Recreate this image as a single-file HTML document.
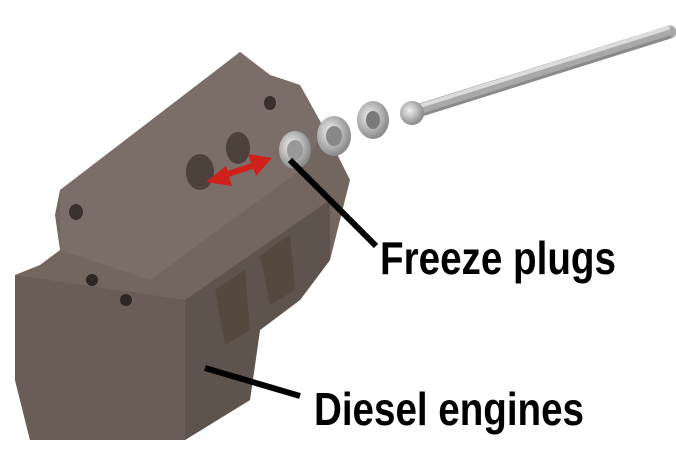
<!DOCTYPE html>
<html><head><meta charset="utf-8">
<style>html,body{margin:0;padding:0;background:#fff;width:676px;height:464px;overflow:hidden}</style>
</head><body>
<svg width="676" height="464" viewBox="0 0 676 464" xmlns="http://www.w3.org/2000/svg">
<defs>
<radialGradient id="plug" cx="0.4" cy="0.4" r="0.6">
<stop offset="0" stop-color="#f2f2f2"/><stop offset="1" stop-color="#8a8a8a"/>
</radialGradient>
</defs>
<!-- engine block -->
<polygon points="60,190 90,170 240,52 270,75 300,85 325,130 350,180 330,260 300,300 260,330 250,400 185,440 30,440 15,380 15,275 40,265 60,250 55,215" fill="#72665f"/>
<polygon points="60,190 240,52 270,75 300,85 325,130 300,170 150,280 60,250" fill="#7b6e68"/>
<polygon points="15,275 185,300 185,440 30,440 15,380" fill="#6a5d57"/>
<polygon points="185,300 330,200 330,260 300,300 260,330 250,400 185,440" fill="#5f534d"/>
<ellipse cx="200" cy="172" rx="14" ry="18" fill="#4d413c"/>
<ellipse cx="238" cy="148" rx="12" ry="16" fill="#4d413c"/>
<ellipse cx="76" cy="212" rx="7" ry="8" fill="#3a302c"/>
<ellipse cx="270" cy="103" rx="6" ry="7" fill="#3a302c"/>
<ellipse cx="92" cy="280" rx="6" ry="6" fill="#2e2623"/>
<ellipse cx="126" cy="300" rx="6" ry="6" fill="#2e2623"/>
<polygon points="215,290 245,270 250,330 225,345" fill="#55483f"/>
<polygon points="260,255 290,235 295,290 270,305" fill="#55483f"/>
<!-- rod -->
<line x1="420" y1="110" x2="670" y2="32" stroke="#a9a9a9" stroke-width="13" stroke-linecap="round"/>
<line x1="420" y1="106" x2="668" y2="28" stroke="#dcdcdc" stroke-width="4" stroke-linecap="round"/>
<line x1="422" y1="115" x2="670" y2="37" stroke="#8a8a8a" stroke-width="3" stroke-linecap="round"/>
<circle cx="412" cy="113" r="12" fill="url(#plug)"/>
<ellipse cx="373" cy="120" rx="16" ry="19" fill="url(#plug)"/>
<ellipse cx="373" cy="120" rx="7" ry="9" fill="#7a7a7a"/>
<ellipse cx="334" cy="136" rx="17" ry="20" fill="url(#plug)"/>
<ellipse cx="334" cy="136" rx="8" ry="10" fill="#888"/>
<ellipse cx="295" cy="150" rx="16" ry="19" fill="url(#plug)"/>
<ellipse cx="295" cy="150" rx="8" ry="10" fill="#999"/>
<!-- red arrow -->
<line x1="222" y1="176" x2="258" y2="164" stroke="#d0201a" stroke-width="6"/>
<polygon points="206,182 226,166 232,186" fill="#d0201a"/>
<polygon points="272,158 248,154 256,176" fill="#d0201a"/>
<!-- leader lines -->
<line x1="290" y1="160" x2="376" y2="246" stroke="#000" stroke-width="6"/>
<line x1="205" y1="368" x2="300" y2="396" stroke="#000" stroke-width="6"/>
<!-- labels -->
<text x="380" y="274" font-family="Liberation Sans Narrow, Liberation Sans, sans-serif" font-weight="bold" font-size="46" textLength="236" lengthAdjust="spacingAndGlyphs" fill="#000">Freeze plugs</text>
<text x="314" y="425" font-family="Liberation Sans Narrow, Liberation Sans, sans-serif" font-weight="bold" font-size="46" textLength="270" lengthAdjust="spacingAndGlyphs" fill="#000">Diesel engines</text>
</svg>
</body></html>
